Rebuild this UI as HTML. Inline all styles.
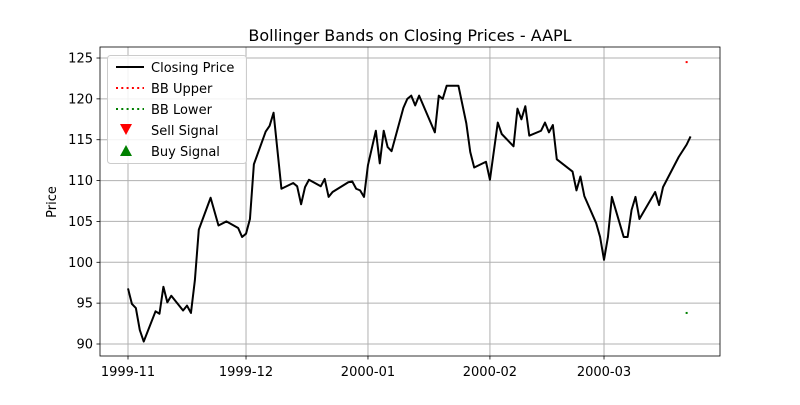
<!DOCTYPE html>
<html><head><meta charset="utf-8"><style>
body{margin:0;background:#fff}
svg text{font-family:"DejaVu Sans","Liberation Sans",sans-serif;fill:#000}
</style></head><body>
<svg id="c" width="800" height="400" xmlns="http://www.w3.org/2000/svg"></svg>
<script>
const days=[0,1,2,3,4,7,8,9,10,11,14,15,16,17,18,21,23,25,28,29,30,31,32,35,36,37,39,42,43,44,45,46,49,50,51,52,56,57,58,59,60,61,63,64,65,66,67,70,71,72,73,74,78,79,80,81,84,86,87,88,91,92,94,95,98,99,100,101,102,105,106,107,108,109,113,114,115,116,119,120,121,122,123,126,127,128,129,130,134,135,136,140,142,143];
const closes=[96.8,94.9,94.4,91.7,90.3,94.0,93.7,97.0,95.1,95.9,94.1,94.7,93.8,97.8,104.0,107.9,104.5,105.0,104.2,103.1,103.5,105.3,112.0,116.0,116.7,118.3,109.0,109.7,109.3,107.1,109.2,110.1,109.3,110.2,108.0,108.6,109.8,109.9,109.0,108.8,108.0,111.9,116.1,112.1,116.1,114.1,113.6,118.9,120.0,120.4,119.2,120.4,115.9,120.4,120.0,121.6,121.6,117.0,113.5,111.6,112.3,110.1,117.1,115.7,114.2,118.8,117.5,119.1,115.5,116.1,117.1,115.9,116.8,112.6,111.1,108.8,110.5,108.1,104.8,103.1,100.3,103.1,108.0,103.1,103.1,106.4,108.0,105.3,108.6,107.0,109.2,112.9,114.4,115.4];
const bbDays=[142];
const bbUpper=[124.5];
const bbLower=[93.8];
const yTicks=[90,95,100,105,110,115,120,125];
const xTickDays=[0,30,61,92,121];
const xTickLabels=["1999-11","1999-12","2000-01","2000-02","2000-03"];
const L=100,R=720,T=47,B=356;
const X=d=>128+d*3.934;
const Y=v=>344-(v-90)*8.171;
const svg=document.getElementById('c');
const NS='http://www.w3.org/2000/svg';
function mk(tag,attrs,parent){const e=document.createElementNS(NS,tag);for(const k in attrs)e.setAttribute(k,attrs[k]);(parent||svg).appendChild(e);return e;}
yTicks.forEach(v=>{
 const g=mk('line',{x1:L,x2:R,y1:Y(v),y2:Y(v),stroke:'#b0b0b0','stroke-width':1});
 
 
 mk('line',{x1:L-3.5,x2:L,y1:Y(v),y2:Y(v),stroke:'#000','stroke-width':0.8});
 const t=mk('text',{x:L-7,y:Y(v)+4.5,'text-anchor':'end','font-size':13});
 t.textContent=v;
 
 
});
xTickDays.forEach((d,i)=>{
 const g=mk('line',{x1:X(d),x2:X(d),y1:T,y2:B,stroke:'#b0b0b0','stroke-width':1});
 
 
 mk('line',{x1:X(d),x2:X(d),y1:B,y2:B+3.5,stroke:'#000','stroke-width':0.8});
 const t=mk('text',{x:X(d),y:B+20,'text-anchor':'middle','font-size':13});
 t.textContent=xTickLabels[i];
 
 
});
const p=mk('polyline',{points:days.map((d,i)=>X(d)+','+Y(closes[i])).join(' '),fill:'none',stroke:'#000','stroke-width':2,'stroke-linejoin':'round'});


bbDays.forEach((d,i)=>{
 const u=mk('rect',{x:X(d)-1,y:Y(bbUpper[i])-1,width:2,height:2,fill:'red'});
 
 
 const l=mk('rect',{x:X(d)-1,y:Y(bbLower[i])-1,width:2,height:2,fill:'green'});
 
 
});
const f=mk('rect',{x:L,y:T,width:R-L,height:B-T,fill:'none',stroke:'#000','stroke-width':0.8});


</script>
<svg style="position:absolute;left:0;top:0" width="800" height="400" xmlns="http://www.w3.org/2000/svg">
<text x="410" y="41" text-anchor="middle" font-size="16">Bollinger Bands on Closing Prices - AAPL</text>
<text x="56" y="202" text-anchor="middle" font-size="13" transform="rotate(-90 56 202)">Price</text>
<g>
<rect x="107.5" y="55.5" width="139" height="108" rx="3" fill="#fff" fill-opacity="0.85" stroke="#ccc"/>
<g><line x1="116" x2="144" y1="67" y2="67" stroke="#000" stroke-width="2"/><text x="151" y="72" font-size="13">Closing Price</text></g>
<g><line x1="116" x2="144" y1="88" y2="88" stroke="red" stroke-width="2" stroke-dasharray="2,3.3"/><text x="151" y="93" font-size="13">BB Upper</text></g>
<g><line x1="116" x2="144" y1="109" y2="109" stroke="green" stroke-width="2" stroke-dasharray="2,3.3"/><text x="151" y="114" font-size="13">BB Lower</text></g>
<g><polygon points="120,124 132,124 126,135" fill="red"/><text x="151" y="135" font-size="13">Sell Signal</text></g>
<g><polygon points="120,156 132,156 126,145" fill="green"/><text x="151" y="156" font-size="13">Buy Signal</text></g>
</g>
</svg>
</body></html>
